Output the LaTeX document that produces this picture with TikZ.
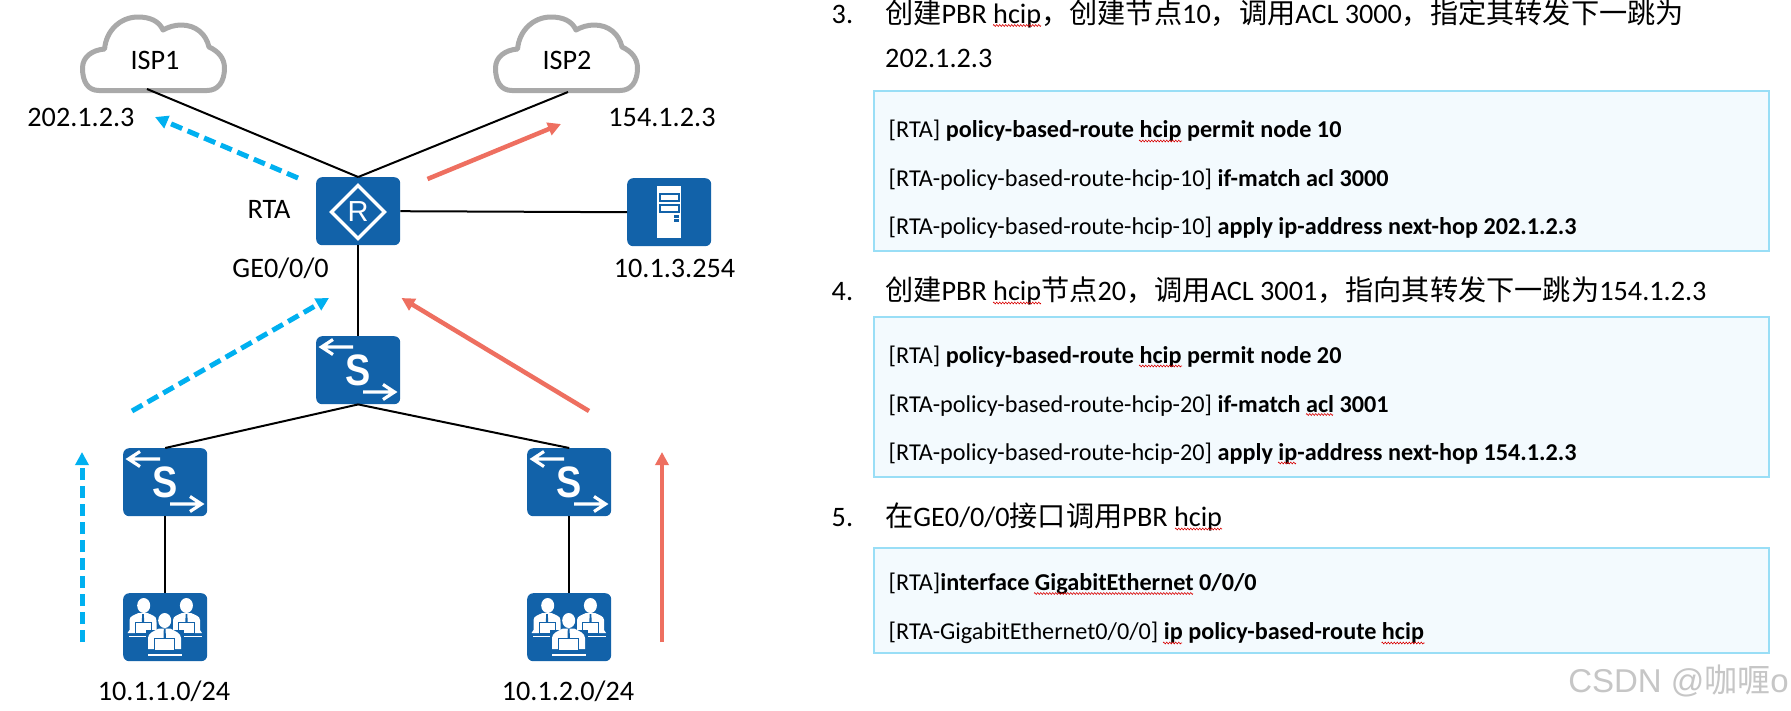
\documentclass[tikz,border=0pt]{standalone}
\usepackage{fontspec}
\setmainfont{Carlito}
\newfontfamily\cjk{Noto Sans CJK SC}
\newfontfamily\iconfont{Liberation Sans}
\usetikzlibrary{arrows.meta,decorations.pathmorphing}
\definecolor{tileblue}{HTML}{1262A9}
\definecolor{cloudgray}{HTML}{A9A9A9}
\definecolor{flowblue}{HTML}{00B0F0}
\definecolor{flowred}{HTML}{EE6F60}
\definecolor{boxfill}{HTML}{F3FAFE}
\definecolor{boxline}{HTML}{99DEF6}
\definecolor{markgray}{HTML}{C6C6C6}
\tikzset{
  tile/.style={fill=tileblue,rounded corners=6pt,minimum width=84pt,minimum height=68pt,inner sep=0pt,anchor=north west},
  lbl/.style={font=\fontsize{28.2}{30}\selectfont,inner sep=0pt,anchor=base},
  head/.style={font=\fontsize{28.2}{30}\selectfont,inner sep=0pt,anchor=base west},
  code/.style={font=\fontsize{24.2}{26}\selectfont,inner sep=0pt,anchor=base west},
  codebox/.style={draw=boxline,fill=boxfill,line width=2pt,inner sep=0pt,minimum width=895pt,anchor=north west},
  link/.style={black,line width=2pt},
  cloudline/.style={draw=cloudgray,fill=white,line width=5pt,line join=round},
  blueflow/.style={flowblue,line width=5pt,dash pattern=on 12pt off 6pt,-{Triangle[length=13pt,width=13pt]}},
  redflow/.style={flowred,line width=4.5pt,-{Triangle[length=13pt,width=13pt]}},
  iconline/.style={white,line width=3.2pt},
  squig/.style={draw=red!85!black,line width=0.6pt,decorate,decoration={zigzag,amplitude=0.9pt,segment length=3pt}},
}
\newcommand{\sq}[3]{\draw[squig] (#1,#3) -- (#2,#3);}
\newcommand{\cloudshape}[1]{%
  \begin{scope}[shift={(#1,0)}]
  \draw[cloudline] (99,90.5) .. controls (88,90.5) and (82.5,82) .. (82.5,68)
   .. controls (82.5,57) and (92,50) .. (104.6,49)
   .. controls (106,31) and (120,17) .. (138,17)
   .. controls (150,17) and (159,21) .. (163,30)
   .. controls (168,27) and (175,25) .. (181,25)
   .. controls (196,25) and (206,34) .. (209,47)
   .. controls (218,51) and (224.5,58) .. (224.5,68)
   .. controls (224.5,82) and (218,90.5) .. (207,90.5) -- cycle;
  \end{scope}}
\newcommand{\switchtile}[3]{%
  \node[tile] (#1) at (#2,#3) {};
  \begin{scope}[shift={(#2,#3)}]
  \draw[iconline] (37,11) -- (6,11) (17,3.5) -- (5.5,11) -- (17,18.5);
  \draw[iconline] (47,56) -- (78,56) (67,48.5) -- (78.5,56) -- (67,63.5);
  \node[inner sep=0pt,text=white,xscale=0.86,font=\iconfont\bfseries\fontsize{44}{44}\selectfont] (#1S) at (42,34) {S};
  \end{scope}}
\newcommand{\oneperson}[2]{%
  \begin{scope}[shift={(#1,#2)}]
  \fill[white] (0,7) .. controls (0,3) and (5,2) .. (9,0) -- (18,0) .. controls (22,2) and (27,3) .. (27,7) -- (27,17) -- (29,20) -- (-2,20) -- (0,17) -- cycle;
  \fill[tileblue] (12.6,1) -- (14.4,1) -- (14.6,9) -- (12.4,9) -- cycle;
  \fill[white,draw=tileblue,line width=1pt] (5.5,9) rectangle (21.5,20);
  \fill[white] (-1,22.7) rectangle (29,24);
  \end{scope}}
\newcommand{\peopletile}[3]{%
  \node[tile] (#1) at (#2,#3) {};
  \begin{scope}[shift={(#2,#3)}]
  \fill[white] (20.7,12.5) ellipse (6.5pt and 7.5pt);
  \fill[white] (63.4,12.5) ellipse (6.5pt and 7.5pt);
  \oneperson{6.5}{20}
  \oneperson{50}{20}
  \fill[tileblue] (23,37) rectangle (61,65);
  \fill[tileblue] (41.7,27.5) ellipse (8.2pt and 9pt);
  \fill[white] (41.7,27.5) ellipse (6.5pt and 7.5pt);
  \fill[white] (25,45) .. controls (25,40) and (31,38) .. (36,35.5) -- (47,35.5) .. controls (52,38) and (58,40) .. (58,45) -- (58,56) -- (25,56) -- cycle;
  \fill[tileblue] (40.8,36) -- (42.6,36) -- (42.9,45) -- (40.5,45) -- cycle;
  \fill[white,draw=tileblue,line width=1pt] (31.5,45) rectangle (51.5,57);
  \fill[white] (25,60.8) rectangle (59,63);
  \end{scope}}
\begin{document}
\begin{tikzpicture}[x=1pt,y=-1pt]
\useasboundingbox (0,0) rectangle (1791,710);
\fill[white] (0,0) rectangle (1791,710);

% anchor points of links on the clouds
\coordinate (isp1p) at (147,89);
\coordinate (isp2p) at (568,92);

% devices
\cloudshape{0}
\cloudshape{413}
\node[lbl] (isp1) at (155,69) {ISP1};
\node[lbl] (isp2) at (567,69) {ISP2};

\node[tile] (rta) at (316,177) {};
\draw[white,line width=3.4pt,line join=miter] (358,185.5) -- (384.5,212) -- (358,238.5) -- (331.5,212) -- cycle;
\node[inner sep=0pt,text=white,font=\iconfont\fontsize{29}{29}\selectfont] (rtaR) at (358,212) {R};

\node[tile] (srv) at (627,178) {};
\fill[white] (656.7,185.7) rectangle (681,237.7);
\draw[tileblue,line width=2pt] (659.5,193.5) rectangle (678.5,201);
\draw[tileblue,line width=2pt] (659.5,204.5) rectangle (678.5,212);
\fill[tileblue] (674.3,215.3) rectangle (678.7,217.7);
\fill[tileblue] (674.3,219.3) rectangle (678.7,221.7);

\switchtile{swc}{316}{336}
\switchtile{swl}{123}{448}
\switchtile{swr}{527}{448}
\peopletile{pcl}{123}{593}
\peopletile{pcr}{527}{593}

% links
\draw[link] (isp1p) -- (rta.north);
\draw[link] (isp2p) -- (rta.north);
\draw[link] (rta.east) -- (srv.west);
\draw[link] (rta.south) -- (swc.north);
\draw[link] (swc.south) -- (swl.north);
\draw[link] (swc.south) -- (swr.north);
\draw[link] (swl.south) -- (pcl.north);
\draw[link] (swr.south) -- (pcr.north);

% flows
\coordinate (b1s) at (82,642); \coordinate (b1e) at (82,452);
\coordinate (b2s) at (132,411); \coordinate (b2e) at (329,298);
\coordinate (b3s) at (298,178); \coordinate (b3e) at (155,117);
\coordinate (r1s) at (662,642); \coordinate (r1e) at (662,452);
\coordinate (r2s) at (589,411); \coordinate (r2e) at (401.5,298);
\coordinate (r3s) at (427.5,179); \coordinate (r3e) at (561,124);
\draw[blueflow] (b1s) -- (b1e);
\draw[blueflow] (b2s) -- (b2e);
\draw[blueflow] (b3s) -- (b3e);
\draw[redflow,line width=3.4pt] (r1s) -- (r1e);
\draw[redflow] (r2s) -- (r2e);
\draw[redflow] (r3s) -- (r3e);

% labels
\node[lbl] (l1) at (81,126) {202.1.2.3};
\node[lbl] (l2) at (662,126) {154.1.2.3};
\node[lbl] (l3) at (269,218) {RTA};
\node[lbl] (l4) at (280.6,277) {GE0/0/0};
\node[lbl] (l5) at (674.5,277) {10.1.3.254};
\node[lbl] (l6) at (164,700) {10.1.1.0/24};
\node[lbl] (l7) at (568,700) {10.1.2.0/24};

% right column
\node[head] (n3) at (831.5,23) {3.};
\node[head] (h3) at (885,23) {{\cjk 创建}PBR hcip{\cjk ，创建节点}10{\cjk ，调用}ACL 3000{\cjk ，指定其转发下一跳为}};
\node[head] (h3b) at (885,67) {202.1.2.3};
\node[codebox,minimum height=160pt] (box1) at (873,90) {};
\node[code] (c11) at (888.5,137) {[RTA] \textbf{policy-based-route hcip permit node 10}};
\node[code] (c12) at (888.5,186) {[RTA-policy-based-route-hcip-10] \textbf{if-match acl 3000}};
\node[code] (c13) at (888.5,234) {[RTA-policy-based-route-hcip-10] \textbf{apply ip-address next-hop 202.1.2.3}};

\node[head] (n4) at (831.5,300) {4.};
\node[head] (h4) at (885,300) {{\cjk 创建}PBR hcip{\cjk 节点}20{\cjk ，调用}ACL 3001{\cjk ，指向其转发下一跳为}154.1.2.3};
\node[codebox,minimum height=160pt] (box2) at (873,316) {};
\node[code] (c21) at (888.5,363) {[RTA] \textbf{policy-based-route hcip permit node 20}};
\node[code] (c22) at (888.5,412) {[RTA-policy-based-route-hcip-20] \textbf{if-match acl 3001}};
\node[code] (c23) at (888.5,460) {[RTA-policy-based-route-hcip-20] \textbf{apply ip-address next-hop 154.1.2.3}};

\node[head] (n5) at (831.5,526) {5.};
\node[head] (h5) at (885,526) {{\cjk 在}GE0/0/0{\cjk 接口调用}PBR hcip};
\node[codebox,minimum height=105pt] (box3) at (873,547) {};
\node[code] (c31) at (888.5,590) {[RTA]\textbf{interface GigabitEthernet 0/0/0}};
\node[code] (c32) at (888.5,639) {[RTA-GigabitEthernet0/0/0] \textbf{ip policy-based-route hcip}};

% spell-check marks
\sq{993}{1041}{25.5}
\sq{1139}{1182}{141}
\sq{993}{1041}{303}
\sq{1139}{1182}{366}
\sq{1306}{1333}{414.5}
\sq{1278}{1296}{463}
\sq{1175}{1222}{529}
\sq{1034}{1193}{593.5}
\sq{1163}{1182}{643}
\sq{1381.5}{1424.5}{643}

\node[inner sep=0pt,anchor=base east,text=markgray,font=\iconfont\fontsize{33}{33}\selectfont] (wm) at (1789,692) {CSDN @{\cjk 咖喱}o};
\end{tikzpicture}
\end{document}
